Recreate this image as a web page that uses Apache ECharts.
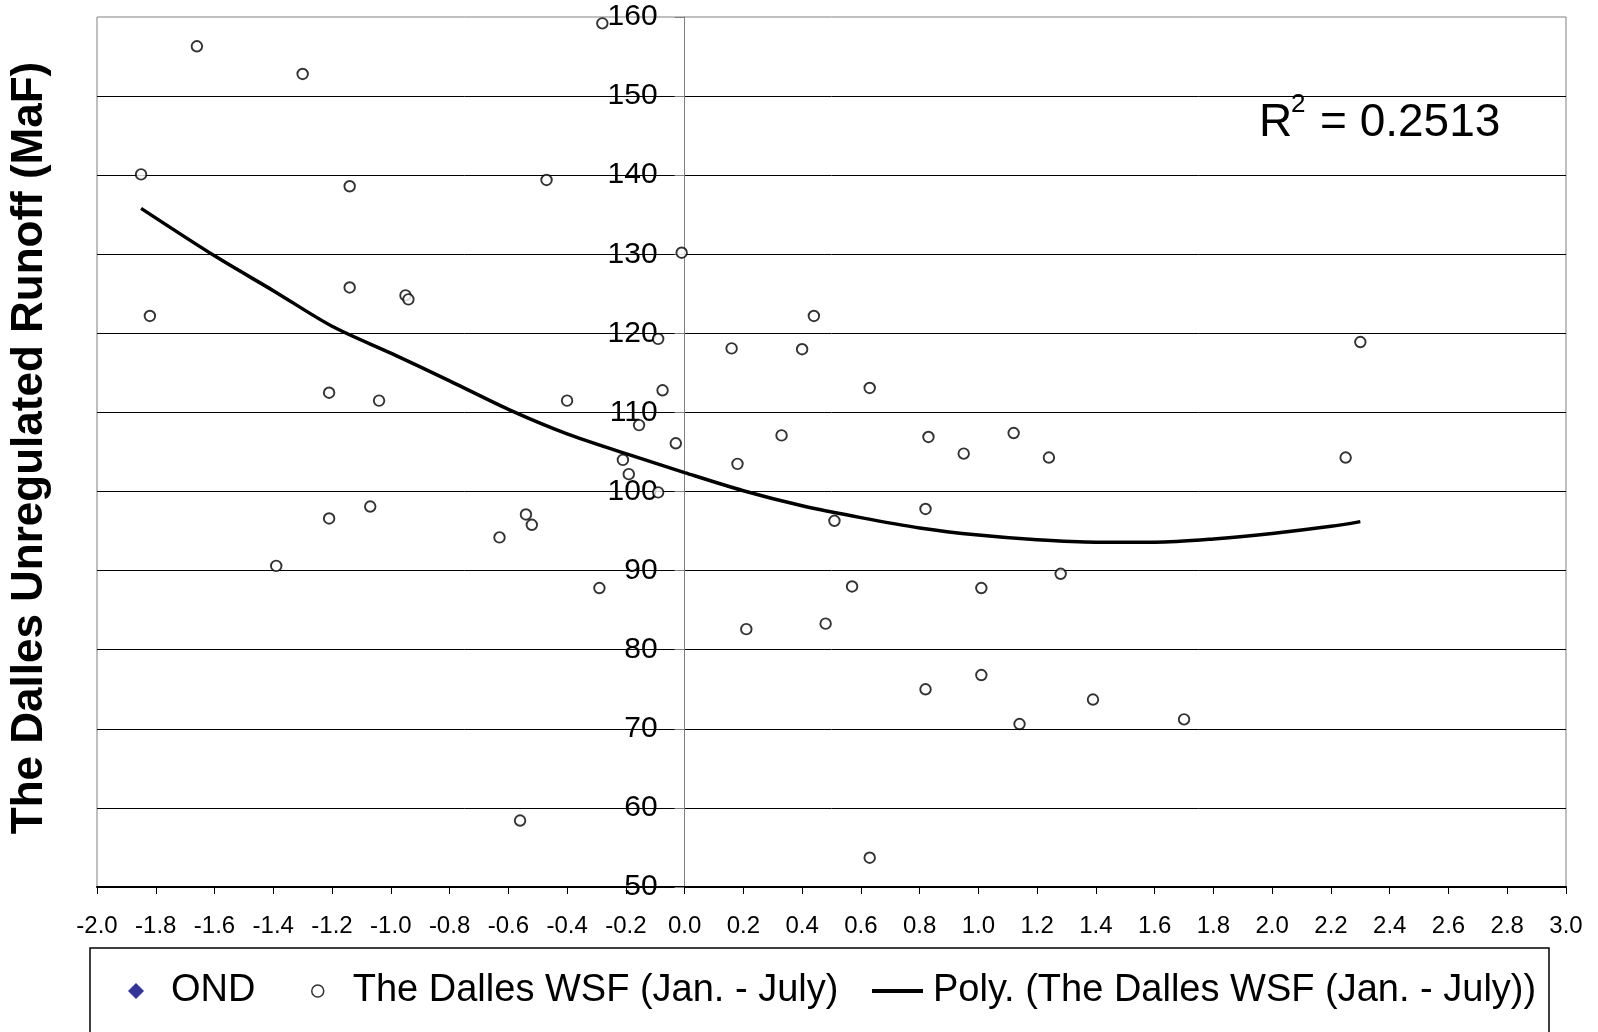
<!DOCTYPE html>
<html>
<head>
<meta charset="utf-8">
<script src="https://cdn.jsdelivr.net/npm/echarts@6/dist/echarts.min.js"></script>
<style>
  html, body { margin: 0; padding: 0; background: #fff; }
  #main { width: 1598px; height: 1032px; }
</style>
</head>
<body>
<div id="main"></div>
<script>
// WSF values (x) and The Dalles runoff (y)
const wsfX = [-1.85, -1.82, -1.66, -1.30, -1.39, -1.14, -1.14, -1.21, -1.21, -1.07,
  -1.04, -0.95, -0.94, -0.63, -0.56, -0.54, -0.52, -0.47, -0.40, -0.29,
  -0.28, -0.21, -0.19, -0.155, -0.09, -0.09, -0.075, -0.03, -0.01, 0.16,
  0.18, 0.21, 0.33, 0.40, 0.44, 0.48, 0.51, 0.57, 0.63, 0.63,
  0.82, 0.82, 0.83, 0.95, 1.01, 1.01, 1.12, 1.14, 1.24, 1.28,
  1.39, 1.70, 2.25, 2.30];
const runoffY = [140.1, 122.2, 156.3, 152.8, 90.6, 138.6, 125.8, 112.5, 96.6, 98.1,
  111.5, 124.8, 124.3, 94.2, 58.4, 97.1, 95.8, 139.4, 111.5, 87.8,
  159.2, 104.0, 102.2, 108.4, 99.9, 119.3, 112.8, 106.1, 130.2, 118.1,
  103.5, 82.6, 107.1, 118.0, 122.2, 83.3, 96.3, 88.0, 113.1, 53.7,
  75.0, 97.8, 106.9, 104.8, 87.8, 76.8, 107.4, 70.6, 104.3, 89.6,
  73.7, 71.2, 104.3, 118.9];

// polynomial trend line
const trendX = [-1.85, -1.6, -1.4, -1.2, -1.0, -0.8, -0.6, -0.4, -0.2, 0.0, 0.2,
  0.4, 0.6, 0.8, 1.0, 1.2, 1.4, 1.6, 1.8, 2.0, 2.2, 2.3];
const trendY = [135.8, 129.8, 125.4, 120.9, 117.5, 114.0, 110.4, 107.3, 104.8, 102.4, 100.1,
  98.2, 96.7, 95.4, 94.5, 93.9, 93.6, 93.6, 94.0, 94.7, 95.6, 96.2];

const seriesNames = ['OND', 'The Dalles WSF (Jan. - July)', 'Poly. (The Dalles WSF (Jan. - July))'];
const yTitle = 'The Dalles Unregulated Runoff (MaF)';
const r2Text = '0.2513';

const FONT = "'Liberation Sans', Arial, sans-serif";

let myChart = echarts.init(document.getElementById('main'));

const legendText = (padLeft) => ({
  fontFamily: FONT, fontSize: 38, color: '#000', lineHeight: 40,
  padding: [0, 0, 0, padLeft]
});

let option = {
  animation: false,
  backgroundColor: '#fff',
  grid: {
    left: 97, right: 32, top: 17, bottom: 145,
    show: true, borderColor: '#808080', borderWidth: 1
  },
  xAxis: {
    type: 'value', min: -2, max: 3, interval: 0.2,
    axisLine: { onZero: false, lineStyle: { color: '#000', width: 2 } },
    axisTick: { length: 7, lineStyle: { color: '#000' } },
    axisLabel: {
      margin: 27, fontFamily: FONT, fontSize: 24, color: '#000',
      formatter: v => v.toFixed(1)
    },
    splitLine: { show: false }
  },
  yAxis: {
    type: 'value', min: 50, max: 160, interval: 10,
    // the y axis sits at x = 0: shift it in from the grid's left edge
    offset: -587.6,
    axisLine: { show: true, onZero: false, lineStyle: { color: '#808080', width: 1 } },
    axisTick: { show: true, length: 10, lineStyle: { color: '#808080' } },
    axisLabel: { margin: 27, fontFamily: FONT, fontSize: 30, color: '#000' },
    splitLine: { showMaxLine: false, lineStyle: { color: '#000', width: 1 } }
  },
  legend: [
    {
      data: [{ name: seriesNames[0], icon: 'diamond' }],
      left: 128, top: 971, padding: 0,
      itemWidth: 16, itemHeight: 16,
      itemStyle: { color: '#000080' },
      textStyle: legendText(22)
    },
    {
      data: [{ name: seriesNames[1], icon: 'circle' }],
      left: 311, top: 971, padding: 0,
      itemWidth: 12, itemHeight: 12,
      itemStyle: { color: '#fff', borderColor: '#000', borderWidth: 1.5 },
      textStyle: legendText(24)
    },
    {
      data: [{ name: seriesNames[2], icon: 'rect' }],
      left: 872, top: 971, padding: 0,
      itemWidth: 51, itemHeight: 4,
      itemStyle: { color: '#000', borderWidth: 0 },
      textStyle: legendText(5)
    }
  ],
  graphic: [
    {
      type: 'rect', shape: { x: 90, y: 948, width: 1459, height: 200 },
      style: { fill: 'none', stroke: '#000', lineWidth: 1.5 }, z: 0
    },
    {
      type: 'text', x: 30, y: 448, rotation: Math.PI / 2,
      style: {
        text: yTitle, font: 'bold 44px ' + FONT, fill: '#000',
        textAlign: 'center', textVerticalAlign: 'middle'
      }
    },
    {
      type: 'text', x: 1259, y: 123.4,
      style: { text: 'R', font: '46px ' + FONT, fill: '#000', textAlign: 'left', textVerticalAlign: 'middle' }
    },
    {
      type: 'text', x: 1291, y: 105,
      style: { text: '2', font: '26px ' + FONT, fill: '#000', textAlign: 'left', textVerticalAlign: 'middle' }
    },
    {
      type: 'text', x: 1320, y: 123.4,
      style: { text: '= ' + r2Text, font: '46px ' + FONT, fill: '#000', textAlign: 'left', textVerticalAlign: 'middle' }
    }
  ],
  series: [
    {
      name: seriesNames[0],
      type: 'scatter',
      symbol: 'diamond',
      itemStyle: { color: '#000080' },
      data: []
    },
    {
      name: seriesNames[1],
      type: 'scatter',
      symbol: 'circle',
      symbolSize: 10.5,
      itemStyle: { color: '#fff', borderColor: '#000', borderWidth: 1.9 },
      data: wsfX.map((x, i) => [x, runoffY[i]]),
      z: 3
    },
    {
      name: seriesNames[2],
      type: 'line',
      smooth: 0.3,
      showSymbol: false,
      symbol: 'none',
      lineStyle: { color: '#000', width: 3.5 },
      itemStyle: { color: '#000' },
      data: trendX.map((x, i) => [x, trendY[i]]),
      z: 2
    }
  ]
};
myChart.setOption(option);
</script>
</body>
</html>
